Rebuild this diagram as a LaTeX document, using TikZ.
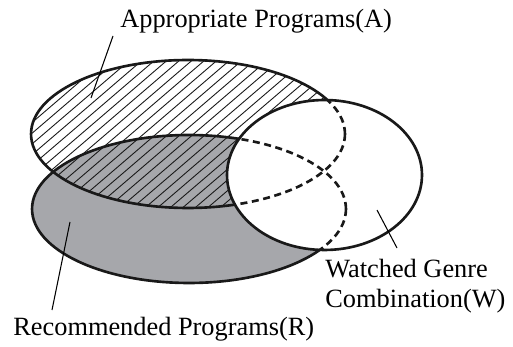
\documentclass[tikz,border=0pt]{standalone}
\usepackage{fontspec}
\setmainfont{Liberation Serif}
\usepackage{tikz}

\definecolor{shadeR}{RGB}{166,167,171}

\tikzset{
  setline/.style={line width=1.5pt, black!90},
  setdash/.style={setline, dash pattern=on 4pt off 2.6pt},
  hatchline/.style={line width=0.5pt, black!90},
  leader/.style={line width=0.6pt},
  setlabel/.style={inner sep=0pt, font=\fontsize{15}{16.8}\selectfont}
}

\begin{document}
\begin{tikzpicture}[x=0.02cm, y=-0.02cm]
            \useasboundingbox (0,0) rectangle (513,347);
            \node (0) at (188, 134) {};
            \node (1) at (189, 209) {};
            \node (2) at (324.5, 175) {};
            \node (3) at (113, 36) {};
            \node (4) at (91, 98) {};
            \node (5) at (52, 310) {};
            \node (6) at (70, 222) {};
            \node (7) at (397, 248) {};
            \node (8) at (377, 210) {};
            \node[setlabel, anchor=base west] (9) at (120, 28) {Appropriate Programs(A)};
            \node[setlabel, anchor=base west] (10) at (13, 335) {Recommended Programs(R)};
            \node[setlabel, anchor=north west, align=left] (11) at (325, 259) {Watched Genre\\Combination(W)};
            % recommended (R): grey
            \fill[shadeR] (1.center) ellipse [x radius=3.14cm, y radius=1.48cm];
            % appropriate (A): hatched
            \begin{scope}
                \clip (0.center) ellipse [x radius=3.14cm, y radius=1.48cm];
                \foreach \c in {0, 12.5, ..., 800}
                    \draw[hatchline] (\c, 0) to ({\c-350}, 300);
            \end{scope}
            \draw[setline] (0.center) ellipse [x radius=3.14cm, y radius=1.48cm];
            \draw[setline] (1.center) ellipse [x radius=3.14cm, y radius=1.48cm];
            % watched (W): white, hides the rest
            \fill[white] (2.center) ellipse [x radius=1.95cm, y radius=1.5cm];
            \begin{scope}
                \clip (2.center) ellipse [x radius=1.95cm, y radius=1.5cm];
                \draw[setdash] (0.center) ellipse [x radius=3.14cm, y radius=1.48cm];
                \draw[setdash] (1.center) ellipse [x radius=3.14cm, y radius=1.48cm];
            \end{scope}
            \draw[setline] (2.center) ellipse [x radius=1.95cm, y radius=1.5cm];
            \draw[leader] (3.center) to (4.center);
            \draw[leader] (5.center) to (6.center);
            \draw[leader] (7.center) to (8.center);
        \end{tikzpicture}
\end{document}
